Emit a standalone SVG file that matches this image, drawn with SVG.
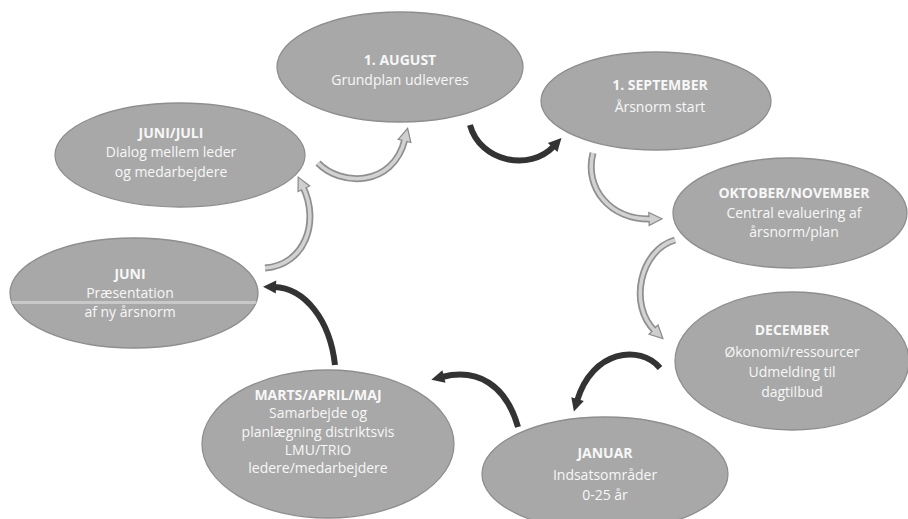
<svg xmlns="http://www.w3.org/2000/svg" width="908" height="519" viewBox="0 0 908 519">
<defs>
<style>
.node ellipse{fill:#a8a8a8;stroke:#8e8e8e;stroke-width:1.3}
.node text{font-family:"Open Sans","Liberation Sans",sans-serif;font-size:14px;fill:#f7f7f7;text-anchor:middle}
.node text.h{font-weight:bold}
.lt{fill:none;stroke:#8f8f8f;stroke-width:7;stroke-linecap:butt}
.lti{fill:none;stroke:#d2d2d2;stroke-width:3.5}
.dk{fill:none;stroke:#333;stroke-width:6}
</style>
<marker id="hl" markerUnits="userSpaceOnUse" markerWidth="16" markerHeight="16" refX="3" refY="8" orient="auto">
<path d="M1,1.5 L14,8 L1,14.5 z" fill="#cfcfcf" stroke="#8a8a8a" stroke-width="1.2"/>
</marker>
<marker id="hd" markerUnits="userSpaceOnUse" markerWidth="16" markerHeight="16" refX="3" refY="8" orient="auto">
<path d="M1,1.5 L14,8 L1,14.5 z" fill="#333"/>
</marker>
<clipPath id="cj"><ellipse cx="134" cy="293" rx="124" ry="55"/></clipPath>
</defs>
<rect width="908" height="519" fill="#fff"/>

<g id="n-aug" class="node">
<ellipse cx="400" cy="67" rx="123" ry="55"/>
<text class="h" x="400" y="65">1. AUGUST</text>
<text x="400" y="85">Grundplan udleveres</text>
</g>
<g id="n-sep" class="node">
<ellipse cx="656" cy="101" rx="115" ry="49"/>
<text class="h" x="660" y="90">1. SEPTEMBER</text>
<text x="660" y="112">Årsnorm start</text>
</g>
<g id="n-okt" class="node">
<ellipse cx="790" cy="213" rx="117" ry="55"/>
<text class="h" x="794" y="198">OKTOBER/NOVEMBER</text>
<text x="794" y="218">Central evaluering af</text>
<text x="794" y="237">årsnorm/plan</text>
</g>
<g id="n-dec" class="node">
<ellipse cx="792" cy="361" rx="117" ry="69"/>
<text class="h" x="792" y="335">DECEMBER</text>
<text x="792" y="357">Økonomi/ressourcer</text>
<text x="792" y="377">Udmelding til</text>
<text x="792" y="397">dagtilbud</text>
</g>
<g id="n-jan" class="node">
<ellipse cx="605" cy="474" rx="123" ry="57"/>
<text class="h" x="605" y="458">JANUAR</text>
<text x="605" y="480">Indsatsområder</text>
<text x="605" y="500">0-25 år</text>
</g>
<g id="n-mar" class="node">
<ellipse cx="328" cy="444" rx="126" ry="74"/>
<text class="h" x="318" y="400">MARTS/APRIL/MAJ</text>
<text x="318" y="418">Samarbejde og</text>
<text x="318" y="437">planlægning distriktsvis</text>
<text x="318" y="455">LMU/TRIO</text>
<text x="318" y="473">ledere/medarbejdere</text>
</g>
<g id="n-juni" class="node">
<ellipse cx="134" cy="293" rx="124" ry="55"/>
<rect x="0" y="301" width="270" height="3" fill="#c9c9c9" clip-path="url(#cj)"/>
<text class="h" x="130" y="279">JUNI</text>
<text x="130" y="298">Præsentation</text>
<text x="130" y="317">af ny årsnorm</text>
</g>
<g id="n-junijuli" class="node">
<ellipse cx="180" cy="155" rx="125" ry="52"/>
<text class="h" x="171" y="138">JUNI/JULI</text>
<text x="171" y="157">Dialog mellem leder</text>
<text x="171" y="177">og medarbejdere</text>
</g>

<g id="connectors">
<path class="lt" d="M318,163 C340,186 393,188 405,139" marker-end="url(#hl)"/>
<path class="lti" d="M318,163 C340,186 393,188 405,139"/>
<path class="dk" d="M470,125 C480,162 530,172 554,146" marker-end="url(#hd)"/>
<path class="lt" d="M593,153 C584,188 610,220 651,219" marker-end="url(#hl)"/>
<path class="lti" d="M593,153 C584,188 610,220 651,219"/>
<path class="lt" d="M675,240 C640,250 628,305 655,331" marker-end="url(#hl)"/>
<path class="lti" d="M675,240 C640,250 628,305 655,331"/>
<path class="dk" d="M660,368 C640,344 592,350 577,401" marker-end="url(#hd)"/>
<path class="dk" d="M518,427 C506,385 478,368 442,377" marker-end="url(#hd)"/>
<path class="dk" d="M335,365 C330,320 305,288 274,287" marker-end="url(#hd)"/>
<path class="lt" d="M265,268 C305,265 320,222 303,187" marker-end="url(#hl)"/>
<path class="lti" d="M265,268 C305,265 320,222 303,187"/>
</g>
</svg>
